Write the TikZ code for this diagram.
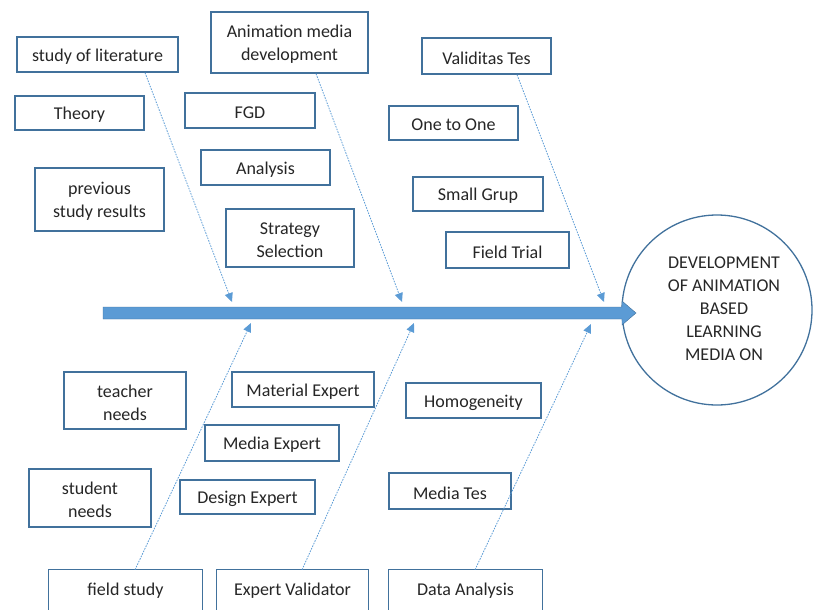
\documentclass[tikz,border=0pt]{standalone}
\usepackage{fontspec}
\setmainfont{Carlito}
\usetikzlibrary{arrows.meta}
\definecolor{boxblue}{HTML}{41719C}
\definecolor{lineblue}{HTML}{5B9BD5}
\definecolor{txt}{HTML}{262626}
\begin{document}
\begin{tikzpicture}[x=1pt,y=-1pt,
  lbl/.style={inner sep=0pt, align=center, text=txt, font=\fontsize{18}{23}\selectfont},
  box/.style={draw=boxblue, line width=1.3pt, fill=white, inner sep=0pt},
  txtlabel/.style={label={[lbl, yshift=-2pt]center:#1}},
  boxline/.style={draw=boxblue, line width=1.3pt},
  bone/.style={draw=lineblue, line width=0.8pt, dash pattern=on 1.6pt off 1.2pt, -{Triangle[length=9pt,width=8pt]}},
  spine/.style={fill=lineblue, draw=boxblue, line width=0.4pt}]
\useasboundingbox (0,0) rectangle (814,610);
\clip (0,0) rectangle (814,610);

% goal circle
\node[draw=boxblue, line width=1.3pt, circle, minimum size=190pt, inner sep=0pt] (goal) at (717,310) {};
\node[lbl] (goaltext) at (724,308.5) {DEVELOPMENT\\OF ANIMATION\\BASED\\LEARNING\\MEDIA ON};

% spine
\fill[spine] (103,307) -- (622,307) -- (622,301) -- (636,313) -- (622,325) -- (622,319) -- (103,319) -- cycle;

% upper boxes
\node[box, minimum width=161, minimum height=35, txtlabel={study of literature}] (lit) at (97.5,54.5) {};
\node[box, minimum width=157, minimum height=61, txtlabel={Animation media\\development}] (anim) at (289.5,42.5) {};
\node[box, minimum width=129, minimum height=34, txtlabel={Theory}] (theory) at (79.5,113) {};
\node[box, minimum width=130, minimum height=35, txtlabel={FGD}] (fgd) at (250,110.5) {};
\node[box, minimum width=129, minimum height=35, txtlabel={Analysis}] (analysis) at (265.5,167.5) {};
\node[box, minimum width=129, minimum height=63, txtlabel={previous\\study results}] (prev) at (99.5,199.5) {};
\node[box, minimum width=128, minimum height=58, txtlabel={Strategy\\Selection}] (strat) at (290,238) {};
\node[box, minimum width=129, minimum height=36, txtlabel={Validitas Tes}] (val) at (486.5,56) {};
\node[box, minimum width=129, minimum height=34, txtlabel={One to One}] (one) at (453.5,123) {};
\node[box, minimum width=130, minimum height=34, txtlabel={Small Grup}] (small) at (478,194) {};
\node[box, minimum width=123, minimum height=36, txtlabel={Field Trial}] (trial) at (507.5,250) {};

% lower boxes
\node[box, minimum width=122, minimum height=57, txtlabel={teacher\\needs}] (teacher) at (125,400.5) {};
\node[box, minimum width=142, minimum height=35, txtlabel={Material Expert}] (material) at (303,389.5) {};
\node[box, minimum width=134, minimum height=36, txtlabel={Media Expert}] (mediaexp) at (272,443) {};
\node[box, minimum width=122, minimum height=58, txtlabel={student\\needs}] (student) at (90,498) {};
\node[box, minimum width=135, minimum height=34, txtlabel={Design Expert}] (design) at (247.5,497) {};
\node[box, minimum width=135, minimum height=35, txtlabel={Homogeneity}] (homog) at (473.5,400.5) {};
\node[box, minimum width=122, minimum height=36, txtlabel={Media Tes}] (mediates) at (450,491) {};

% bottom (cut) boxes
\node[inner sep=0pt, minimum width=153, minimum height=38, txtlabel={field study}] (field) at (125.5,589) {};
\node[inner sep=0pt, minimum width=151, minimum height=38, txtlabel={Expert Validator}] (expert) at (292.5,589) {};
\node[inner sep=0pt, minimum width=153, minimum height=38, txtlabel={Data Analysis}] (data) at (465.5,589) {};
\foreach \n in {field,expert,data}
  \draw[boxline] ([yshift=-14pt]\n.south west) -- (\n.north west) -- (\n.north east) -- ([yshift=-14pt]\n.south east);

% bone ends
\coordinate (e1) at (232,302);
\coordinate (e2) at (402,302);
\coordinate (e3) at (604,302);
\coordinate (e4) at (251,323);
\coordinate (e5) at (414,323);
\coordinate (e6) at (591,324);

\draw[bone] ([xshift=47.5pt]lit.south) -- (e1);
\draw[bone] ([xshift=26.5pt]anim.south) -- (e2);
\draw[bone] ([xshift=30.5pt]val.south) -- (e3);
\draw[bone] ([xshift=9.5pt]field.north) -- (e4);
\draw[bone] ([xshift=9.5pt]expert.north) -- (e5);
\draw[bone] ([xshift=9.5pt]data.north) -- (e6);
\end{tikzpicture}
\end{document}
